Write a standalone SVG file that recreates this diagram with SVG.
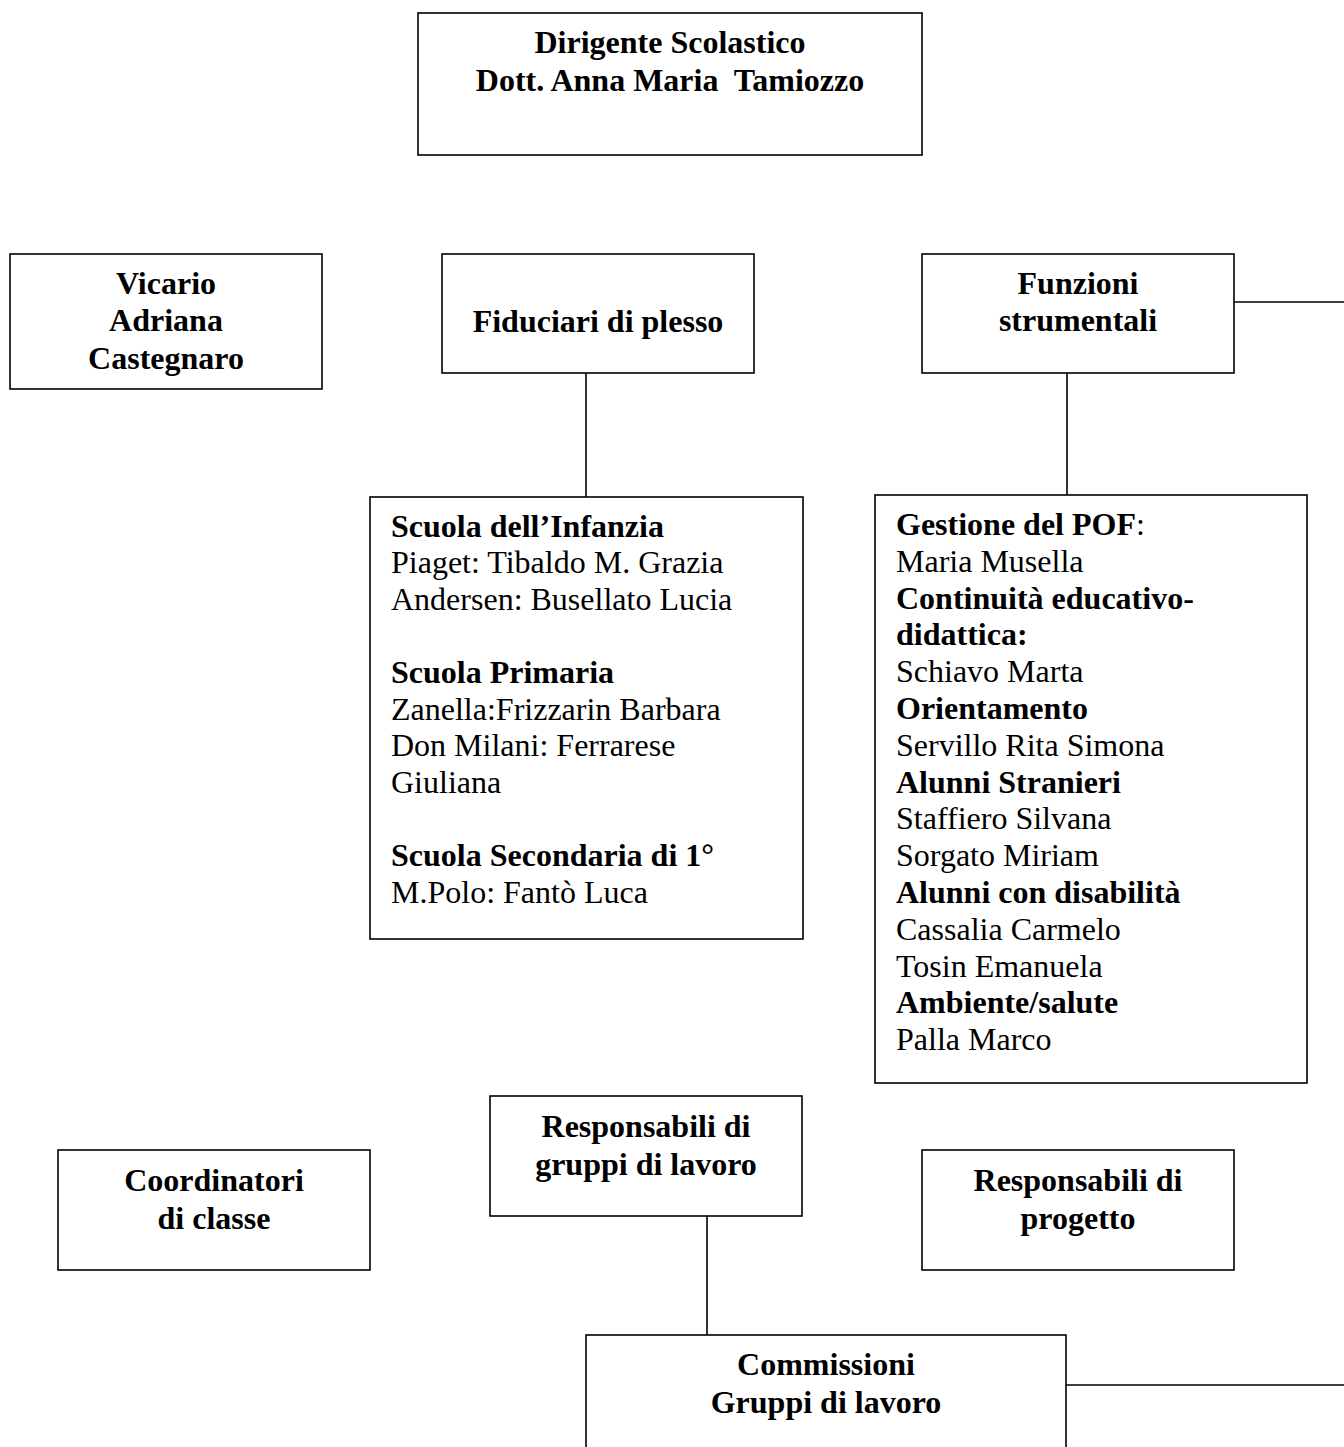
<svg xmlns="http://www.w3.org/2000/svg" width="1344" height="1447" viewBox="0 0 1344 1447">
<style>
.box{fill:#fff;stroke:#000;stroke-width:1.6}
.ln{stroke:#000;stroke-width:1.6;fill:none}
text{font-family:"Liberation Serif","Times New Roman",serif;font-size:32px;fill:#000;white-space:pre}
.c{text-anchor:middle;font-weight:bold}
.b{font-weight:bold}
</style>
<rect width="1344" height="1447" fill="#fff"/>
<g id="connectors">
<line class="ln" x1="586" y1="373" x2="586" y2="497"/>
<line class="ln" x1="1067" y1="373" x2="1067" y2="495"/>
<line class="ln" x1="1234" y1="302" x2="1344" y2="302"/>
<line class="ln" x1="707" y1="1216" x2="707" y2="1335"/>
<line class="ln" x1="1066" y1="1385" x2="1344" y2="1385"/>
</g>
<g id="dirigente">
<rect class="box" x="418" y="13" width="504" height="142"/>
<text class="c" x="670" y="53">Dirigente Scolastico</text>
<text class="c" x="670" y="91">Dott. Anna Maria  Tamiozzo</text>
</g>
<g id="vicario">
<rect class="box" x="10" y="254" width="312" height="135"/>
<text class="c" x="166" y="294">Vicario</text>
<text class="c" x="166" y="331">Adriana</text>
<text class="c" x="166" y="369">Castegnaro</text>
</g>
<g id="fiduciari">
<rect class="box" x="442" y="254" width="312" height="119"/>
<text class="c" x="598" y="332">Fiduciari di plesso</text>
</g>
<g id="funzioni">
<rect class="box" x="922" y="254" width="312" height="119"/>
<text class="c" x="1078" y="294">Funzioni</text>
<text class="c" x="1078" y="331">strumentali</text>
</g>
<g id="scuole">
<rect class="box" x="370" y="497" width="433" height="442"/>
<text class="b" x="391" y="536.5">Scuola dell’Infanzia</text>
<text x="391" y="573.1">Piaget: Tibaldo M. Grazia</text>
<text x="391" y="609.7">Andersen: Busellato Lucia</text>
<text class="b" x="391" y="682.9">Scuola Primaria</text>
<text x="391" y="719.5">Zanella:Frizzarin Barbara</text>
<text x="391" y="756.1">Don Milani: Ferrarese</text>
<text x="391" y="792.7">Giuliana</text>
<text class="b" x="391" y="865.9">Scuola Secondaria di 1°</text>
<text x="391" y="902.5">M.Polo: Fantò Luca</text>
</g>
<g id="funzioni-elenco">
<rect class="box" x="875" y="495" width="432" height="588"/>
<text x="896" y="535"><tspan class="b">Gestione del POF</tspan>:</text>
<text x="896" y="571.8">Maria Musella</text>
<text class="b" x="896" y="608.6">Continuità educativo-</text>
<text class="b" x="896" y="645.4">didattica:</text>
<text x="896" y="682.2">Schiavo Marta</text>
<text class="b" x="896" y="719">Orientamento</text>
<text x="896" y="755.8">Servillo Rita Simona</text>
<text class="b" x="896" y="792.6">Alunni Stranieri</text>
<text x="896" y="829.4">Staffiero Silvana</text>
<text x="896" y="866.2">Sorgato Miriam</text>
<text class="b" x="896" y="903">Alunni con disabilità</text>
<text x="896" y="939.8">Cassalia Carmelo</text>
<text x="896" y="976.6">Tosin Emanuela</text>
<text class="b" x="896" y="1013.4">Ambiente/salute</text>
<text x="896" y="1050.2">Palla Marco</text>
</g>
<g id="coordinatori">
<rect class="box" x="58" y="1150" width="312" height="120"/>
<text class="c" x="214" y="1191">Coordinatori</text>
<text class="c" x="214" y="1229">di classe</text>
</g>
<g id="responsabili-gruppi">
<rect class="box" x="490" y="1096" width="312" height="120"/>
<text class="c" x="646" y="1137">Responsabili di</text>
<text class="c" x="646" y="1175">gruppi di lavoro</text>
</g>
<g id="responsabili-progetto">
<rect class="box" x="922" y="1150" width="312" height="120"/>
<text class="c" x="1078" y="1191">Responsabili di</text>
<text class="c" x="1078" y="1229">progetto</text>
</g>
<g id="commissioni">
<rect class="box" x="586" y="1335" width="480" height="130"/>
<text class="c" x="826" y="1375">Commissioni</text>
<text class="c" x="826" y="1413">Gruppi di lavoro</text>
</g>
</svg>
